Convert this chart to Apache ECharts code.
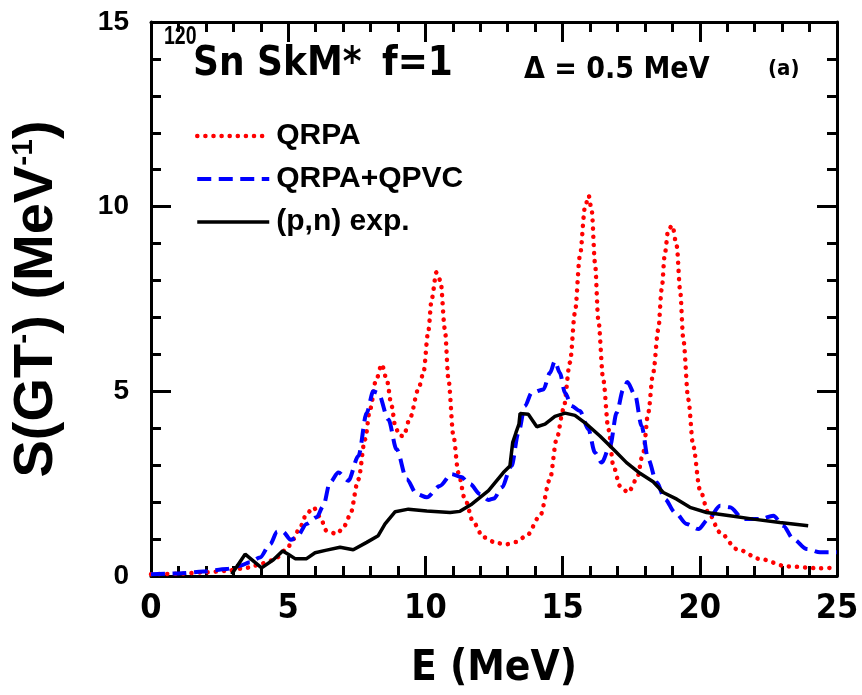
<!DOCTYPE html>
<html>
<head>
<meta charset="utf-8">
<script src="https://cdn.jsdelivr.net/npm/echarts@6/dist/echarts.min.js"></script>
<style>html,body{margin:0;padding:0;background:#fff}#c{width:862px;height:695px}</style>
</head>
<body>
<div id="c"></div>
<script>
// QRPA (red dotted)
const qrpaE = [0.0,1.0,2.0,2.76,3.3,3.6,3.97,4.3,4.58,4.95,5.19,5.43,5.67,5.92,6.16,6.4,6.77,7.0,7.25,7.56,7.8,7.98,8.2,8.41,8.59,8.77,8.9,9.05,9.2,9.45,9.74,9.93,10.1,10.23,10.4,10.55,10.71,10.84,11.02,11.2,11.44,11.75,12.11,12.6,12.96,13.3,13.69,14.18,14.54,14.78,15.03,15.27,15.45,15.63,15.82,15.95,16.06,16.18,16.3,16.48,16.67,16.85,17.09,17.39,17.7,17.94,18.12,18.3,18.49,18.61,18.73,18.85,19.0,19.16,19.28,19.4,19.58,19.76,20.0,20.31,20.74,21.35,22.2,23.17,24.38,25.0];
const qrpaS = [0.05,0.06,0.1,0.14,0.2,0.23,0.32,0.4,0.5,0.73,1.0,1.32,1.68,1.86,1.6,1.22,1.14,1.3,1.63,2.62,3.7,4.5,5.3,5.73,5.32,4.6,4.06,3.8,3.79,4.3,5.05,5.5,6.6,7.5,8.22,8.0,6.68,5.32,3.8,2.8,2.08,1.45,1.05,0.89,0.86,0.92,1.09,1.63,2.62,3.7,4.51,5.78,7.13,8.66,10.0,10.3,9.9,8.48,6.95,5.32,3.97,2.98,2.44,2.26,2.62,3.34,4.42,5.5,6.68,7.76,8.75,9.38,9.49,8.93,7.76,6.4,4.78,3.52,2.35,1.72,1.18,0.73,0.46,0.26,0.21,0.23];
// QRPA+QPVC (blue dashed)
const qpvcE = [0,1.0,1.9,2.76,3.24,3.61,3.97,4.34,4.6,4.8,5.1,5.31,5.67,6.04,6.28,6.52,6.83,7.19,7.56,7.86,8.1,8.28,8.65,8.95,9.32,9.68,10.05,10.53,10.95,11.3,11.63,11.99,12.3,12.5,12.78,13.14,13.39,13.63,13.87,14.3,14.54,14.72,14.9,15.09,15.33,15.63,15.94,16.18,16.42,16.73,16.97,17.21,17.36,17.64,17.88,18.12,18.43,18.73,19.1,19.52,19.95,20.31,20.74,21.1,21.59,22.2,22.68,23.04,23.41,23.9,24.38,25.0];
const qpvcS = [0.05,0.07,0.12,0.19,0.28,0.37,0.5,0.86,1.2,1.2,0.98,1.05,1.41,1.59,1.9,2.53,2.8,2.58,3.25,4.42,5.0,4.96,4.24,3.43,2.62,2.22,2.13,2.44,2.76,2.68,2.49,2.22,2.06,2.1,2.4,2.98,3.88,4.6,4.96,5.05,5.5,5.82,5.5,4.96,4.6,4.47,3.97,3.34,3.07,3.52,4.42,5.05,5.25,4.9,4.06,3.16,2.53,2.08,1.72,1.41,1.27,1.54,1.9,1.86,1.54,1.54,1.63,1.36,1.0,0.73,0.64,0.64];
// (p,n) experiment (black solid)
const expE = [2.94,3.43,4.03,4.46,4.8,5.0,5.25,5.67,5.98,6.4,6.89,7.37,7.86,8.28,8.53,8.9,9.38,10.05,10.9,11.26,11.7,12.3,12.84,13.08,13.18,13.3,13.41,13.45,13.75,14.06,14.36,14.72,15.09,15.45,15.88,16.36,16.85,17.33,17.82,18.3,18.67,19.16,19.64,20.25,21.1,21.95,22.92,23.95];
const expS = [0.05,0.59,0.22,0.44,0.68,0.59,0.47,0.47,0.63,0.7,0.78,0.71,0.91,1.09,1.41,1.74,1.81,1.76,1.72,1.75,1.95,2.31,2.8,2.98,3.61,3.88,4.11,4.4,4.38,4.04,4.11,4.32,4.41,4.35,4.11,3.79,3.43,3.07,2.78,2.55,2.26,2.08,1.86,1.72,1.63,1.54,1.45,1.36];
const seriesNames = ['QRPA','QRPA+QPVC','(p,n) exp.'];
const xTicks = [0,5,10,15,20,25];
const yTicks = [0,5,10,15];

const COND = "'DejaVu Sans Condensed','Liberation Sans Narrow',sans-serif";
const WIDE = "'Liberation Sans',Arial,sans-serif";
const zip = (a,b) => a.map((v,i)=>[v,b[i]]);

const axisCommon = {
  type:'value', splitLine:{show:false},
  axisLine:{show:true,onZero:false,lineStyle:{color:'#000',width:3}},
  axisTick:{show:true,inside:true,length:20,lineStyle:{color:'#000',width:3}},
  minorTick:{show:true,splitNumber:5,length:10,lineStyle:{color:'#000',width:3}}
};

const redStyle = {color:'#ff0000',width:4.5,type:[0.1,8],cap:'round'};
const blueStyle = {color:'#0000ff',width:4,type:[14,7.5]};
const blackStyle = {color:'#000',width:3.5};

const chart = echarts.init(document.getElementById('c'), null, {renderer:'canvas'});
chart.setOption({
  animation:false,
  backgroundColor:'#fff',
  grid:{left:151,right:25,top:22,bottom:118,containLabel:false},
  xAxis:[
    Object.assign({}, axisCommon, {
      min:xTicks[0], max:xTicks[xTicks.length-1], interval:5, position:'bottom',
      axisLabel:{color:'#000',fontSize:34,fontWeight:'bold',fontFamily:COND,margin:16},
      name:'E (MeV)', nameLocation:'middle', nameGap:72,
      nameTextStyle:{color:'#000',fontSize:42,fontWeight:'bold',fontFamily:COND}
    }),
    Object.assign({}, axisCommon, {
      min:xTicks[0], max:xTicks[xTicks.length-1], interval:5, position:'top', axisLabel:{show:false}
    })
  ],
  yAxis:[
    Object.assign({}, axisCommon, {
      min:yTicks[0], max:yTicks[yTicks.length-1], interval:5, position:'left',
      axisLabel:{color:'#000',fontSize:28,fontWeight:'bold',fontFamily:WIDE,margin:22},
      name:'{a|S(GT}{s|-}{a|) (MeV}{s|-1}{a|)}', nameLocation:'middle', nameGap:86,
      nameTextStyle:{color:'#000',rich:{
        a:{fontSize:56,fontWeight:'bold',fontFamily:WIDE,color:'#000',lineHeight:56},
        s:{fontSize:30,fontWeight:'bold',fontFamily:WIDE,color:'#000',verticalAlign:'top',lineHeight:56}
      }}
    }),
    Object.assign({}, axisCommon, {
      min:yTicks[0], max:yTicks[yTicks.length-1], interval:5, position:'right', axisLabel:{show:false}
    })
  ],
  legend:{
    orient:'vertical', left:190, top:116, itemWidth:72, itemHeight:26, itemGap:13,
    itemStyle:{opacity:0,borderWidth:0},
    data:[
      {name:seriesNames[0], lineStyle:redStyle},
      {name:seriesNames[1], lineStyle:blueStyle},
      {name:seriesNames[2], lineStyle:blackStyle}
    ],
    textStyle:{color:'#000',fontSize:30,fontWeight:'bold',fontFamily:WIDE,padding:[0,0,0,2]}
  },
  graphic:[
    {type:'text',left:164,top:25,scaleX:0.78,style:{text:'120',font:"bold 25px 'Liberation Sans'",fill:'#000'}},
    {type:'text',left:193,top:45,style:{text:'Sn SkM*',font:"bold 40px "+COND,fill:'#000'}},
    {type:'text',left:382,top:45,style:{text:'f=1',font:"bold 40px "+COND,fill:'#000'}},
    {type:'text',left:524,top:55,style:{text:'\u0394 = 0.5 MeV',font:"bold 30px "+COND,fill:'#000'}},
    {type:'text',left:768,top:58,style:{text:'(a)',font:"bold 22px "+COND,fill:'#000'}}
  ],
  series:[
    {name:seriesNames[0],type:'line',data:zip(qrpaE,qrpaS),showSymbol:false,symbol:'none',smooth:0.3,smoothMonotone:'x',
     lineStyle:redStyle,itemStyle:{color:'#ff0000'},z:3},
    {name:seriesNames[1],type:'line',data:zip(qpvcE,qpvcS),showSymbol:false,symbol:'none',smooth:0.3,smoothMonotone:'x',
     lineStyle:blueStyle,itemStyle:{color:'#0000ff'},z:4},
    {name:seriesNames[2],type:'line',data:zip(expE,expS),showSymbol:false,symbol:'none',
     lineStyle:blackStyle,itemStyle:{color:'#000'},z:5}
  ]
});
</script>
</body>
</html>
